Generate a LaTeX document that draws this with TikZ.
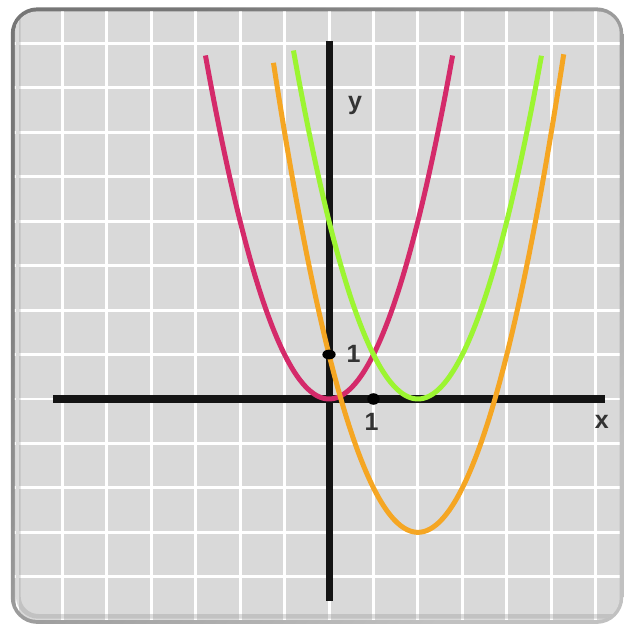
\documentclass[tikz,border=0pt]{standalone}
\usepackage{fontspec}
\setmainfont{Liberation Sans}
\definecolor{sheet}{HTML}{D9D9D9}
\definecolor{rim}{HTML}{767676}
\definecolor{magentacurve}{HTML}{D42A6A}
\definecolor{limecurve}{HTML}{9CF531}
\definecolor{orangecurve}{HTML}{F5A623}
\tikzset{
  gridline/.style={white, line width=1.9pt},
  axisline/.style={black!92, line width=4.5pt},
  curve/.style={line width=3.2pt, samples=90, smooth},
  ticklabel/.style={font=\bfseries\fontsize{16}{18}\selectfont, text=black!80, inner sep=0pt},
}

\begin{document}
\begin{tikzpicture}[x=1cm, y=1cm]
\useasboundingbox (-7.402,-5.062) rectangle (6.614,8.976);
% rim and sheet
\shade[top color=rim, bottom color=rim!45, shading angle=45, rounded corners=0.6cm]
  (-7.16,-5.06) rectangle (6.62,8.81);
\begin{scope}
\clip[rounded corners=0.5cm] (-7.07,-4.97) rectangle (6.54,8.72);
\fill[sheet] (-7.5,-5.5) rectangle (7,9);
\draw[gridline] (-8,-6) grid (7,9);
% bevel along left and bottom
\draw[black!40, opacity=0.35, line width=3pt, rounded corners=0.45cm]
  (-6.99,8.8) -- (-6.99,-4.89) -- (6.6,-4.89);
\end{scope}
% axes
\draw[axisline] (-6.2,0) -- (6.21,0);
\draw[axisline] (0,-4.54) -- (0,8.06);
% parabolas
\draw[curve, magentacurve] plot[domain=-2.78:2.78] (\x,{\x*\x});
\draw[curve, limecurve] plot[domain=-0.8:4.78] (\x,{(\x-2)*(\x-2)});
\draw[curve, orangecurve] plot[domain=-1.25:5.28] (\x,{(\x-2)*(\x-2)-3});
% unit points
\fill[black] (0,1) ellipse (0.15 and 0.11);
\fill[black] (1,0) ellipse (0.14 and 0.13);
\node[ticklabel] (oney) at (0.55,1.02) {1};
\node[ticklabel] (onex) at (0.96,-0.51) {1};
\node[ticklabel] (ylabel) at (0.585,6.61) {y};
\node[ticklabel] (xlabel) at (6.135,-0.51) {x};
\end{tikzpicture}
\end{document}
